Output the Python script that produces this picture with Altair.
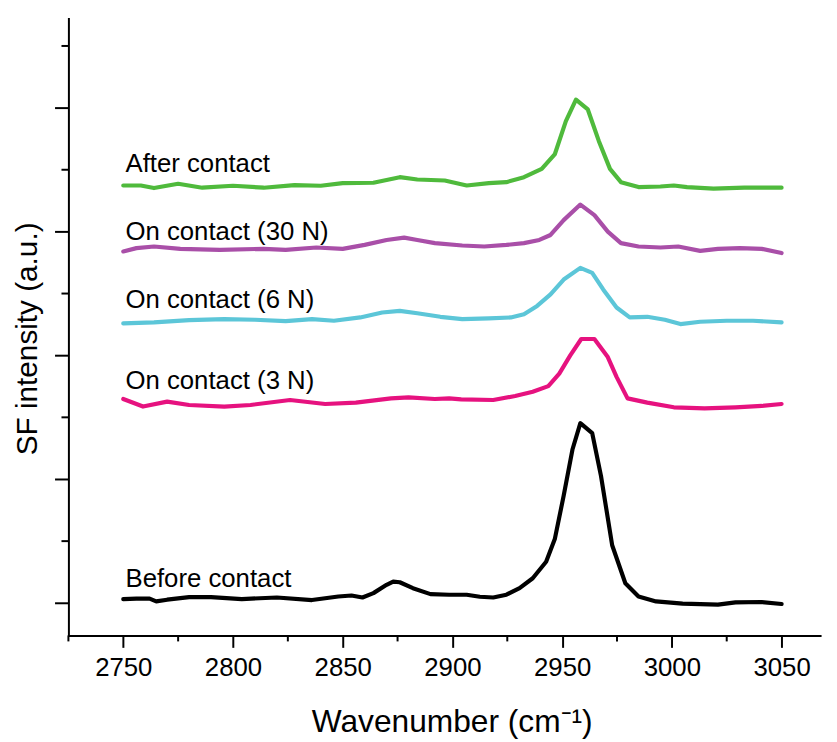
import altair as alt
import pandas as pd

# ---- data ----
before_x = [2750, 2756, 2762, 2765, 2770, 2780, 2790, 2804, 2820, 2836, 2848, 2854, 2859, 2864,
            2870, 2873, 2876, 2882, 2890, 2898.5, 2906.5, 2912.5, 2918.6, 2924.6, 2930.6, 2936.6,
            2942.7, 2946.7, 2950.7, 2954.7, 2958.3, 2963.7, 2967.7, 2972.8, 2978.8, 2984.8,
            2992.8, 3004.9, 3021, 3029, 3041, 3050]
before_y = [0.032, 0.035, 0.035, 0.013, 0.027, 0.048, 0.048, 0.032, 0.045, 0.024, 0.053, 0.061,
            0.045, 0.080, 0.147, 0.173, 0.168, 0.120, 0.072, 0.067, 0.067, 0.051, 0.045, 0.067,
            0.120, 0.200, 0.333, 0.520, 0.867, 1.240, 1.453, 1.373, 1.027, 0.467, 0.160, 0.053,
            0.013, -0.005, -0.013, 0.005, 0.008, -0.008]

n3_x = [2750, 2759, 2770, 2780, 2796, 2808, 2826, 2842, 2856, 2872, 2880, 2892, 2898.5, 2904,
        2918.6, 2928.6, 2936.6, 2943.7, 2948.7, 2953.7, 2958.7, 2964.7, 2970.8, 2974.8, 2979.8,
        2988.8, 3000.9, 3014.9, 3029, 3041, 3050]
n3_y = [1.648, 1.587, 1.627, 1.600, 1.587, 1.600, 1.640, 1.608, 1.619, 1.653, 1.661, 1.648,
        1.653, 1.645, 1.640, 1.672, 1.707, 1.752, 1.853, 2.000, 2.133, 2.133, 1.987, 1.827,
        1.653, 1.619, 1.581, 1.573, 1.581, 1.592, 1.608]

n6_x = [2750, 2764, 2780, 2796, 2810, 2824, 2836, 2846, 2858, 2868, 2876, 2884, 2894.5, 2904.5,
        2916.6, 2926.6, 2932.6, 2938.6, 2944.7, 2950.7, 2958.3, 2963.7, 2968.7, 2974.8, 2980.8,
        2988.8, 2996.8, 3003.9, 3012.9, 3025, 3037, 3050]
n6_y = [2.259, 2.267, 2.285, 2.293, 2.288, 2.277, 2.293, 2.280, 2.307, 2.347, 2.360, 2.341,
        2.312, 2.293, 2.299, 2.307, 2.333, 2.400, 2.493, 2.613, 2.707, 2.667, 2.533, 2.387,
        2.307, 2.312, 2.288, 2.253, 2.272, 2.280, 2.280, 2.267]

n30_x = [2750, 2756, 2764, 2776, 2794, 2814, 2824, 2838, 2850, 2860, 2870, 2878, 2884, 2892,
         2904.5, 2914.5, 2924.6, 2932.6, 2939.6, 2944.7, 2950.7, 2958.3, 2964.7, 2970.8, 2976.8,
         2984.8, 2994.8, 3002.9, 3012.9, 3021, 3031, 3041, 3050]
n30_y = [2.840, 2.867, 2.880, 2.861, 2.853, 2.861, 2.853, 2.872, 2.861, 2.893, 2.933, 2.952,
         2.933, 2.907, 2.888, 2.880, 2.893, 2.907, 2.933, 2.973, 3.093, 3.219, 3.133, 3.000,
         2.907, 2.880, 2.872, 2.880, 2.845, 2.861, 2.867, 2.861, 2.827]

after_x = [2750, 2758, 2764, 2775, 2786, 2800, 2814, 2828, 2840, 2850, 2864, 2876, 2884, 2896.5,
           2906.5, 2916.6, 2924.6, 2932.6, 2940.7, 2946.7, 2951.7, 2956.3, 2961.7, 2966.7,
           2971.8, 2976.8, 2984.8, 2994.8, 3000.9, 3006.9, 3019, 3033, 3050]
after_y = [3.373, 3.373, 3.352, 3.387, 3.355, 3.371, 3.355, 3.376, 3.371, 3.392, 3.395, 3.440,
           3.421, 3.413, 3.373, 3.392, 3.400, 3.440, 3.507, 3.627, 3.893, 4.067, 3.987, 3.733,
           3.507, 3.400, 3.360, 3.365, 3.373, 3.360, 3.347, 3.355, 3.355]

series_names = ["Before contact", "On contact (3 N)", "On contact (6 N)",
                "On contact (30 N)", "After contact"]
series_colors = ["#000000", "#e6127f", "#5cc6d8", "#a94fa8", "#4fba3c"]
label_y = [0.128, 1.728, 2.38, 2.936, 3.48]
label_x = [2751, 2751, 2751, 2751, 2751]

x_major = [2750, 2800, 2850, 2900, 2950, 3000, 3050]
x_minor = [2725, 2775, 2825, 2875, 2925, 2975, 3025]
y_major = [0, 1, 2, 3, 4]
y_minor = [0.5, 1.5, 2.5, 3.5, 4.5]

# ---- tables ----
rows = []
for name, xs, ys in zip(series_names,
                        [before_x, n3_x, n6_x, n30_x, after_x],
                        [before_y, n3_y, n6_y, n30_y, after_y]):
    for i, (a, b) in enumerate(zip(xs, ys)):
        rows.append({"series": name, "wn": a, "val": b, "order": i})
df = pd.DataFrame(rows)
labels_df = pd.DataFrame({"series": series_names, "wn": label_x, "val": label_y})
xminor_df = pd.DataFrame({"wn": x_minor})
yminor_df = pd.DataFrame({"val": y_minor})

FONT = "Liberation Sans"

xscale = alt.Scale(domain=[2725, 3068], nice=False, zero=False)
yscale = alt.Scale(domain=[-0.262, 4.73], nice=False, zero=False)

xaxis = alt.Axis(values=x_major, title="Wavenumber (cm⁻¹)", grid=False, tickSize=12,
                 tickWidth=2, tickColor="black", domainWidth=2, domainColor="black",
                 labelFontSize=26, labelFont=FONT, labelColor="black", labelPadding=7,
                 labelFlush=False, format="d", titleFont=FONT, titleFontSize=32,
                 titleFontWeight="normal", titleColor="black", titleX=387, titleY=97,
                 titleAlign="center", titleBaseline="alphabetic")
yaxis = alt.Axis(values=y_major, title="SF intensity (a.u.)", grid=False, labels=False,
                 tickSize=14, tickWidth=2, tickColor="black", domainWidth=2,
                 domainColor="black", titleFont=FONT, titleFontSize=30,
                 titleFontWeight="normal", titleColor="black", titleX=-32, titleY=324,
                 titleAngle=270, titleAlign="center", titleBaseline="alphabetic")

X = alt.X("wn:Q", scale=xscale, axis=xaxis)
Y = alt.Y("val:Q", scale=yscale, axis=yaxis)

lines = alt.Chart(df).mark_line(strokeWidth=4.2, strokeJoin="round", strokeCap="round").encode(
    x=X, y=Y,
    color=alt.Color("series:N", scale=alt.Scale(domain=series_names, range=series_colors),
                    legend=None),
    detail="series:N",
    order="order:Q",
)

texts = alt.Chart(labels_df).mark_text(align="left", baseline="alphabetic", fontSize=26,
                                       font=FONT, color="black").encode(
    x=X, y=Y, text="series:N")

xminor = alt.Chart(xminor_df).mark_rule(color="black", strokeWidth=2).encode(
    x=X, y=alt.value(624), y2=alt.value(630))
yminor = alt.Chart(yminor_df).mark_rule(color="black", strokeWidth=2).encode(
    y=Y, x=alt.value(-7), x2=alt.value(0))

chart = alt.layer(lines, texts, xminor, yminor).properties(
    width=760, height=624,
    autosize=alt.AutoSizeParams(type="none"),
    padding={"left": 61, "top": 6, "right": 8, "bottom": 104},
    background="white",
).configure_view(stroke=None)

chart.save("out.html", embed_options={"renderer": "svg", "actions": False})
